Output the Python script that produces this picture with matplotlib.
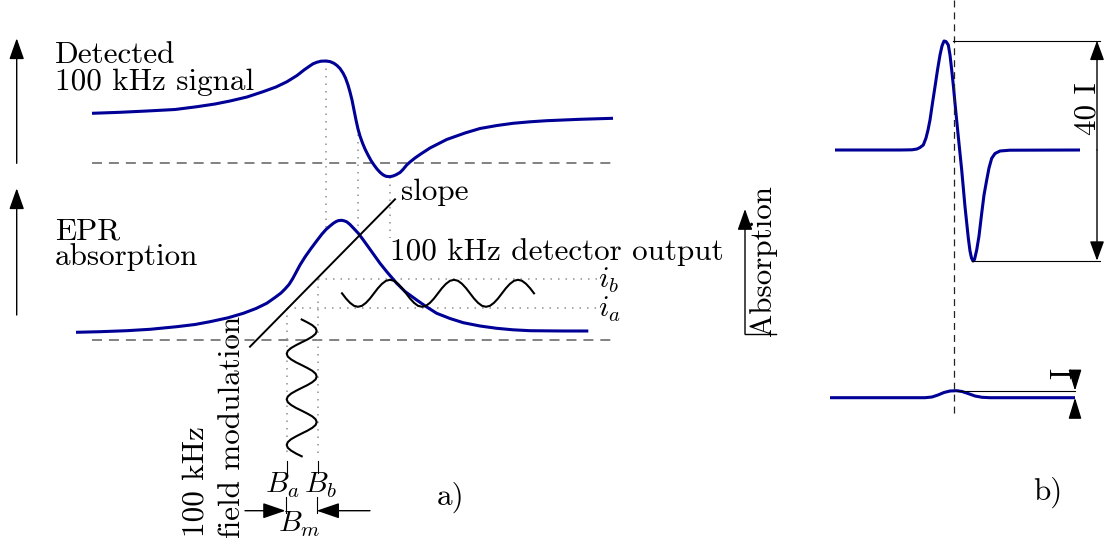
import matplotlib
matplotlib.use("Agg")
import matplotlib.pyplot as plt

plt.rcParams['mathtext.fontset'] = 'cm'
plt.rcParams['lines.scale_dashes'] = False
plt.rcParams['font.family'] = ['cmr10', 'DejaVu Serif']
plt.rcParams['axes.unicode_minus'] = False

# ---------------- data (diagram units = pixels, y downwards) ----------------
# panel a: detected 100 kHz (derivative) signal
signal_x = [92, 120, 147, 175, 197, 215, 230, 247, 263, 276, 287, 297, 304, 309, 313, 317,
            321, 326, 330, 334, 337, 340, 343, 345.5, 348, 350, 352, 354, 356, 358, 360,
            362.5, 365, 368, 371, 374, 377, 380, 383, 386, 390, 393, 396, 400, 403, 406.7,
            410, 415, 420, 430, 446.7, 465, 480, 497, 513, 530, 546.7, 580, 613]
signal_y = [113.3, 112.3, 111, 109.5, 106.7, 104, 101, 97, 91.7, 87, 81.7, 75.5, 70, 66.5, 63.8,
            62.2, 61.2, 61, 61.6, 63.3, 65.5, 68.5, 73, 78, 85, 92, 100, 110, 120, 129, 136,
            143, 149, 155, 160.5, 165, 169, 172.3, 174.8, 176.3, 176.7, 176, 174.8, 172.5,
            169.5, 165, 162, 158, 154.5, 148, 139.5, 133, 128.5, 125.5, 123.3, 121.8, 120.7,
            119.3, 118.3]

# panel a: EPR absorption line
absorb_x = [76, 100, 126.7, 150, 176.7, 195, 210, 228, 243.3, 256, 266.7, 275, 281, 285, 289,
            292.5, 296, 300, 305, 311, 317, 322, 326, 330, 333.3, 336, 338.5, 341.7, 344, 346.7,
            350, 354, 358.3, 363.3, 368, 373, 380, 387, 396.7, 405, 416.7, 426, 436.7, 450,
            463.3, 480, 496.7, 513, 530, 563.3, 588.3]
absorb_y = [332.3, 331.7, 330.7, 329.3, 326.7, 324.5, 321.7, 317.8, 313.3, 308.5, 303.3, 297.5,
            293, 289, 284.5, 279, 272.5, 265, 257, 248.5, 240.5, 234, 229.5, 226, 223.3,
            221.6, 220.6, 220.3, 220.8, 221.8, 224.5, 228.7, 233.3, 240, 246.5, 253.5, 263.3, 272,
            283.3, 291.5, 300, 306.5, 313.3, 318.5, 322.7, 326, 328.3, 329.8, 330.7, 331, 331]

# panel a: 100 kHz detector output wave
detector_x = [342, 346, 350, 354, 358, 362, 366, 370, 374, 378, 382, 386, 390, 394, 398, 402,
              406, 410, 414, 418, 422, 426, 430, 434, 438, 442, 446, 450, 454, 458, 462, 466,
              470, 474, 478, 482, 486, 490, 494, 498, 502, 506, 510, 514, 518, 522, 526, 530, 534]
detector_y = [293.3, 298.5, 302.8, 305.8, 306.8, 305.8, 302.8, 298.5, 293.3, 288.1, 283.8, 280.8,
              279.8, 280.8, 283.8, 288.1,
              293.3, 298.5, 302.8, 305.8, 306.8, 305.8, 302.8, 298.5, 293.3, 288.1, 283.8, 280.8,
              279.8, 280.8, 283.8, 288.1,
              293.3, 298.5, 302.8, 305.8, 306.8, 305.8, 302.8, 298.5, 293.3, 288.1, 283.8, 280.8,
              279.8, 280.8, 283.8, 288.1, 293.3]

# panel a: 100 kHz field modulation wave (vertical)
modulation_x = [301.7, 307.4, 312.3, 315.6, 316.7, 315.6, 312.3, 307.4, 301.7, 296.0, 291.1, 287.8,
                286.7, 287.8, 291.1, 296.0,
                301.7, 307.4, 312.3, 315.6, 316.7, 315.6, 312.3, 307.4, 301.7, 296.0, 291.1, 287.8,
                286.7, 287.8, 291.1, 296.0,
                301.7, 307.4, 312.3, 315.6, 316.7, 315.6, 312.3, 307.4, 301.7, 296.0, 291.1, 287.8,
                286.7, 287.8, 291.1, 296.0, 301.7]
modulation_y = [319.5, 322.4, 325.2, 328.1, 330.9, 333.8, 336.6, 339.5, 342.3, 345.2, 348.0, 350.9,
                353.7, 356.6, 359.4, 362.3, 365.1, 368.0, 370.8, 373.7, 376.5, 379.4, 382.2, 385.1,
                387.9, 390.8, 393.6, 396.5, 399.3, 402.2, 405.0, 407.9, 410.7, 413.6, 416.4, 419.3,
                422.1, 425.0, 427.8, 430.7, 433.5, 436.4, 439.2, 442.1, 444.9, 447.8, 450.6, 453.5,
                456.3]

# panel b: strong derivative line
strong_x = [835, 900, 912, 917, 920, 923.3, 926, 928, 930, 932.5, 935, 937.5, 940, 942, 944, 946,
            948.3, 950, 951.7, 953.5, 955, 958.3, 961.7, 965, 968.3, 970, 971.5, 973, 974.5,
            976.7, 979, 981.7, 984, 986.7, 989, 991.7, 995, 1000, 1010, 1080]
strong_y = [150, 150, 149.8, 149, 147.5, 145, 138, 130, 120, 103, 86.7, 70, 55, 46, 41, 41.5, 45,
            55, 70, 87, 103.3, 136.7, 170, 206.7, 238, 251, 258, 261, 259.5, 250, 236, 213.3,
            195, 180, 168, 158.3, 153.5, 151, 150.2, 150]

# panel b: weak line
weak_x = [830, 925, 932, 938, 944, 950, 956.7, 962, 968, 975, 982, 990, 1075]
weak_y = [397.7, 397.7, 397, 395, 392.5, 391, 390.7, 391.5, 393.5, 396, 397.3, 397.7, 397.7]

labels_a = ["Detected", "100 kHz signal", "EPR", "absorption", "slope",
            "100 kHz detector output", "100 kHz", "field modulation", "a)"]
labels_b = ["Absorption", "40 I", "I", "b)"]

# ---------------- figure ----------------
fig = plt.figure(figsize=(11.04, 5.43), dpi=100)
ax = fig.add_axes([0, 0, 1, 1])
ax.set_xlim(0, 1104)
ax.set_ylim(543, 0)
ax.axis('off')

BLUE = '#000096'
FS = 22.4

# dashed baselines
dash = dict(color='#666666', lw=1.15, linestyle=(0, (7.2, 5)))
ax.plot([91.7, 612], [163.3, 163.3], **dash)
ax.plot([91.7, 612], [340, 340], **dash)

# dotted guide lines
dot = dict(color='#999999', lw=1.2, linestyle=(0, (1.1, 4.3)))
ax.plot([326, 326], [61, 229], **dot)
ax.plot([357.7, 357.7], [127, 233], **dot)
ax.plot([390, 390], [177, 238], **dot)
ax.plot([317.5, 597], [279.3, 279.3], **dot)
ax.plot([286.5, 597], [308.3, 308.3], **dot)
ax.plot([317.5, 317.5], [279.3, 457], **dot)
ax.plot([286.5, 286.5], [308.3, 457], **dot)

# curves
ax.plot(signal_x, signal_y, color=BLUE, lw=2.2, solid_capstyle='butt', solid_joinstyle='round')
ax.plot(absorb_x, absorb_y, color=BLUE, lw=2.2, solid_capstyle='butt', solid_joinstyle='round')
ax.plot(detector_x, detector_y, color='black', lw=1.5, solid_joinstyle='round')
ax.plot(modulation_x, modulation_y, color='black', lw=1.5, solid_joinstyle='round')
ax.plot([250, 395], [346.7, 199.3], color='black', lw=1.4)

ax.plot(strong_x, strong_y, color=BLUE, lw=2.2, solid_capstyle='butt', solid_joinstyle='round')
ax.plot(weak_x, weak_y, color=BLUE, lw=2.2, solid_capstyle='butt', solid_joinstyle='round')


def arrow(tail, tip, style='-|>', hl=0.65, hw=0.23, lw=1.0):
    ax.annotate('', xy=tip, xytext=tail,
                arrowprops=dict(arrowstyle=f'{style},head_length={hl},head_width={hw}',
                                color='black', lw=lw, mutation_scale=20,
                                shrinkA=0, shrinkB=0))

# left axis arrows
arrow((16.7, 163.3), (16.7, 38.3))
arrow((16.7, 315), (16.7, 188.3))

# B ticks and Bm arrows
ax.plot([286.5, 286.5], [461, 473], color='black', lw=0.8)
ax.plot([317.5, 317.5], [461, 473], color='black', lw=0.8)
ax.plot([285.5, 285.5], [497, 513], color='black', lw=0.8)
ax.plot([316.7, 316.7], [497, 513], color='black', lw=0.8)
arrow((245, 510.7), (285.5, 510.7), hl=0.7, hw=0.24)
arrow((370, 510.7), (316.7, 510.7), hl=0.7, hw=0.24)

# panel a text
ax.text(55, 63.3, labels_a[0], fontsize=FS, va='baseline')
ax.text(55, 89.5, labels_a[1], fontsize=FS, va='baseline')
ax.text(55, 239, labels_a[2], fontsize=FS, va='baseline')
ax.text(55, 265, labels_a[3], fontsize=FS, va='baseline')
ax.text(401.5, 200, labels_a[4], fontsize=FS, va='baseline')
ax.text(390, 260, labels_a[5], fontsize=FS, va='baseline')
ax.text(598, 280, r'$i_b$', fontsize=FS - 1, va='center')
ax.text(598, 309, r'$i_a$', fontsize=FS - 1, va='center')
ax.text(282, 492.7, r'$B_a$', fontsize=FS - 1, va='baseline', ha='center')
ax.text(321, 492.7, r'$B_b$', fontsize=FS - 1, va='baseline', ha='center')
ax.text(299, 532, r'$B_m$', fontsize=FS - 1, va='baseline', ha='center')
ax.text(203, 537, labels_a[6], fontsize=FS, rotation=90, rotation_mode='anchor',
        ha='left', va='baseline')
ax.text(240.5, 538, labels_a[7], fontsize=FS, rotation=90, rotation_mode='anchor',
        ha='left', va='baseline')
ax.text(437, 505, labels_a[8], fontsize=FS, va='baseline')

# panel b
ax.plot([954.3, 954.3], [0, 415], color='#222222', lw=0.9, linestyle=(0, (5, 3.6)))
ax.plot([953, 1100], [40.7, 40.7], color='black', lw=0.8)
ax.plot([972, 1100], [260.7, 260.7], color='black', lw=0.8)
arrow((1097, 150), (1097, 40.7), hl=0.6, hw=0.22)
arrow((1097, 150), (1097, 260.7), hl=0.6, hw=0.22)
ax.plot([956.7, 1075], [390.7, 390.7], color='black', lw=0.8)
arrow((1075, 372.7), (1075, 390.7), hl=0.65, hw=0.2)
arrow((1075, 416.7), (1075, 397.7), hl=0.65, hw=0.2)

arrow((745, 334), (745, 209))
ax.plot([745, 776], [334, 334], color='black', lw=1.0)
ax.text(771, 336, labels_b[0], fontsize=FS, rotation=90, rotation_mode='anchor',
        ha='left', va='baseline')
ax.text(1096, 135, labels_b[1], fontsize=FS, rotation=90, rotation_mode='anchor',
        ha='left', va='baseline')
ax.text(1071, 379, labels_b[2], fontsize=FS, rotation=90, rotation_mode='anchor',
        ha='left', va='baseline')
ax.text(1033, 500, labels_b[3], fontsize=FS, va='baseline')

fig.savefig('out.png', dpi=100)
